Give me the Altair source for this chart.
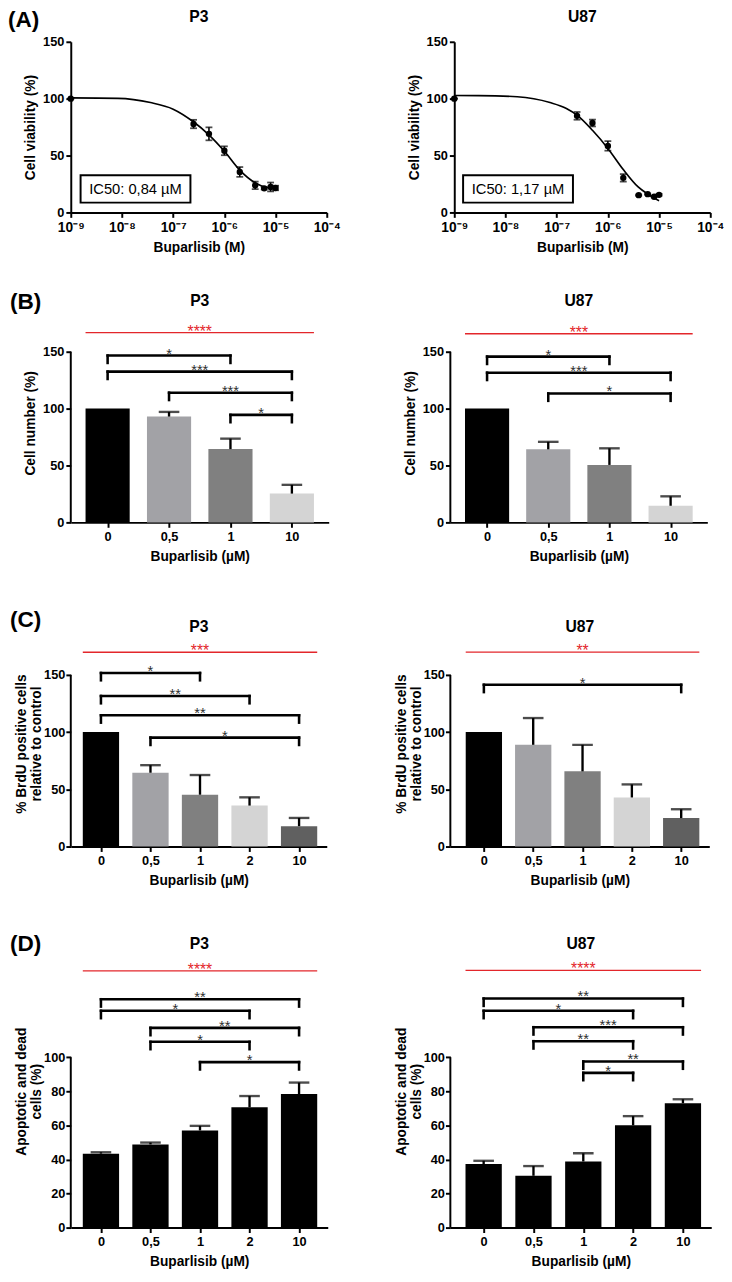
import altair as alt
import pandas as pd

FONT = "Liberation Sans"
RED = "#e3262b"
STAR = "#2e2e2e"

# ---------------- (A) dose-response data ----------------
a_conc = [1e-9, 2.5e-7, 5e-7, 1e-6, 2e-6, 4e-6, 6e-6, 8e-6, 1e-5]
a_p3_mean = [100.0, 77.7, 69.1, 54.2, 35.6, 23.8, 21.2, 22.4, 21.5]
a_p3_sem = [0.0, 3.7, 5.7, 3.9, 4.3, 3.3, 1.0, 3.9, 2.0]
a_u87_mean = [100.0, 84.9, 78.6, 58.5, 30.4, 15.2, 16.1, 13.8, 15.5]
a_u87_sem = [0.0, 3.4, 3.0, 4.2, 3.3, 0.5, 0.5, 0.5, 0.8]
a_p3_fit_x = [1e-9, 8.3e-9, 3.6e-8, 1e-7, 2.45e-7, 5.1e-7, 1.02e-6, 2.04e-6, 3.98e-6, 6.2e-6, 1.12e-5]
a_p3_fit_y = [100.7, 100.3, 96.6, 90.8, 79.9, 67.8, 53.4, 36.8, 26.1, 22.4, 21.3]
a_u87_fit_x = [1e-9, 3e-9, 1.7e-8, 7.4e-8, 1.55e-7, 2.57e-7, 5e-7, 1e-6, 2e-6, 3.9e-6, 6e-6, 1e-5]
a_u87_fit_y = [102.8, 102.7, 101.7, 96.6, 91.4, 85.1, 72.2, 56.3, 37.7, 22.4, 16.1, 10.3]
a_ticks = [1e-9, 1e-8, 1e-7, 1e-6, 1e-5, 1e-4]
a_tick_labels = ["10⁻⁹", "10⁻⁸", "10⁻⁷", "10⁻⁶", "10⁻⁵", "10⁻⁴"]
a_ic50_p3 = "IC50: 0,84 µM"
a_ic50_u87 = "IC50: 1,17 µM"

# ---------------- (B) cell number ----------------
b_cats = ["0", "0,5", "1", "10"]
b_colors = ["#000000", "#a2a2a6", "#808080", "#d4d4d4"]
b_p3_mean = [100.0, 93.0, 64.4, 25.3]
b_p3_sem = [0.0, 4.1, 9.2, 7.7]
b_u87_mean = [100.0, 64.2, 50.5, 14.6]
b_u87_sem = [0.0, 6.6, 14.6, 8.3]
b_p3_brackets = [(0, 2, "*", 146.6), (0, 3, "***", 132.5), (1, 3, "***", 114.0), (2, 3, "*", 94.5)]
b_u87_brackets = [(0, 2, "*", 145.7), (0, 3, "***", 131.6), (1, 3, "*", 113.3)]
b_p3_overall = ("****", 166.7)
b_u87_overall = ("***", 165.8)

# ---------------- (C) BrdU ----------------
c_cats = ["0", "0,5", "1", "2", "10"]
c_colors = ["#000000", "#a2a2a6", "#808080", "#d4d4d4", "#606060"]
c_p3_mean = [100.0, 64.5, 45.3, 35.8, 17.8]
c_p3_sem = [0.0, 6.6, 17.2, 7.2, 7.2]
c_u87_mean = [100.0, 88.9, 65.7, 42.9, 24.9]
c_u87_sem = [0.0, 23.4, 23.2, 11.4, 7.7]
c_p3_brackets = [(0, 2, "*", 151.7), (0, 3, "**", 131.6), (0, 4, "**", 114.7), (1, 4, "*", 95.2)]
c_u87_brackets = [(0, 4, "*", 141.4)]
c_p3_overall = ("***", 169.8)
c_u87_overall = ("**", 170.0)

# ---------------- (D) apoptosis ----------------
d_cats = ["0", "0,5", "1", "2", "10"]
d_colors = ["#000000"] * 5
d_p3_mean = [43.4, 48.8, 57.0, 70.6, 78.4]
d_p3_sem = [0.8, 1.1, 2.7, 6.6, 6.7]
d_u87_mean = [37.3, 30.4, 38.8, 60.0, 73.0]
d_u87_sem = [1.9, 5.7, 4.8, 5.4, 2.3]
d_p3_brackets = [(0, 4, "**", 134.0), (0, 3, "*", 127.2), (1, 4, "**", 117.2),
                 (1, 3, "*", 109.0), (2, 4, "*", 97.1)]
d_u87_brackets = [(0, 4, "**", 134.4), (0, 3, "*", 127.2), (1, 4, "***", 117.6),
                  (1, 3, "**", 109.4), (2, 4, "**", 97.5), (2, 3, "*", 90.8)]
d_p3_overall = ("****", 150.7)
d_u87_overall = ("****", 151.0)


def label_layers(title, width, ty, letter):
    out = [alt.Chart(alt.Data(values=[{"t": title}])).mark_text(
        fontSize=16, fontWeight="bold", align="center", baseline="middle", color="black"
    ).encode(x=alt.value(width / 2), y=alt.value(ty), text="t:N")]
    if letter:
        out.append(alt.Chart(alt.Data(values=[{"t": letter[0]}])).mark_text(
            fontSize=23, fontWeight="bold", align="left", baseline="middle", color="black"
        ).encode(x=alt.value(letter[1]), y=alt.value(letter[2]), text="t:N"))
    return out


def dose_panel(title, mean, sem, fit_x, fit_y, ic50, box_x, letter=None):
    pts = pd.DataFrame({"x": a_conc, "m": mean,
                        "lo": [m - s for m, s in zip(mean, sem)],
                        "hi": [m + s for m, s in zip(mean, sem)]})
    fit = pd.DataFrame({"x": fit_x, "y": fit_y})
    lab_expr = "[" + ",".join("'%s'" % t for t in a_tick_labels) + "][round(log(datum.value)/LN10) + 9]"
    xenc = alt.X("x:Q", scale=alt.Scale(type="log", domain=[a_ticks[0], a_ticks[-1]]),
                 axis=alt.Axis(values=a_ticks, labelExpr=lab_expr, title="Buparlisib (M)",
                               labelFlush=False, labelOverlap=False, labelFontSize=14))
    yenc = alt.Y("y:Q", scale=alt.Scale(domain=[0, 150], nice=False),
                 axis=alt.Axis(values=[0, 50, 100, 150], title="Cell viability (%)"))
    curve = alt.Chart(fit).mark_line(interpolate="monotone", color="black", strokeWidth=1.7).encode(x=xenc, y=yenc)
    err = alt.Chart(pts).mark_rule(color="black", strokeWidth=1.6).encode(x="x:Q", y="lo:Q", y2="hi:Q")
    caps = alt.Chart(pts).transform_fold(["lo", "hi"], as_=["k", "v"]).mark_tick(
        orient="horizontal", size=7, thickness=1.8, color="black").encode(x="x:Q", y="v:Q")
    dots = alt.Chart(pts).mark_circle(size=42, color="black", opacity=1).encode(x="x:Q", y="m:Q")
    box = alt.Chart(alt.Data(values=[{"t": ic50}])).mark_rect(
        fill="white", stroke="black", strokeWidth=2).encode(
        x=alt.value(box_x), x2=alt.value(box_x + 112), y=alt.value(136), y2=alt.value(164))
    boxt = alt.Chart(alt.Data(values=[{"t": ic50}])).mark_text(
        fontSize=15, color="black", align="center", baseline="middle").encode(
        x=alt.value(box_x + 56), y=alt.value(150.5), text="t:N")
    layers = [curve, err, caps, dots, box, boxt] + label_layers(title, 261, -25.5, letter)
    return alt.layer(*layers).properties(width=261, height=174)


def bar_panel(title, cats, colors, mean, sem, brackets, overall, ymax, yticks, ytitle,
              xdom, bar_w, width, height, title_y, letter=None):
    n = len(cats)
    df = pd.DataFrame({"i": list(range(n)), "m": mean, "s": sem, "c": colors})
    df["top"] = df["m"] + df["s"]
    brk = pd.DataFrame(brackets, columns=["a", "b", "lab", "h"])
    brk["mid"] = (brk["a"] + brk["b"]) / 2
    ov = pd.DataFrame({"a": [0], "b": [n - 1], "mid": [(n - 1) / 2],
                       "lab": [overall[0]], "h": [overall[1]]})
    lab_expr = "[" + ",".join("'%s'" % c for c in cats) + "][datum.value]"
    xenc = alt.X("i:Q", scale=alt.Scale(domain=xdom, nice=False, zero=False),
                 axis=alt.Axis(values=list(range(n)), labelExpr=lab_expr, title="Buparlisib (µM)",
                               labelFlush=False, labelOverlap=False))
    two_line = isinstance(ytitle, list)
    yenc = alt.Y("m:Q", scale=alt.Scale(domain=[0, ymax], nice=False),
                 axis=alt.Axis(values=yticks, title=ytitle, domain=False,
                               titlePadding=0 if two_line else 5,
                               labelPadding=1 if two_line else 2))
    bars = alt.Chart(df).mark_bar(size=bar_w, orient="vertical").encode(
        x=xenc, y=yenc, color=alt.Color("c:N", scale=None))
    errl = alt.Chart(df).transform_filter("datum.s > 0").mark_rule(
        color="black", strokeWidth=2.4).encode(x="i:Q", y="m:Q", y2="top:Q")
    capl = alt.Chart(df).transform_filter("datum.s > 0").mark_tick(
        orient="horizontal", size=21, thickness=2.4, color="black").encode(x="i:Q", y="top:Q")
    spine = alt.Chart(alt.Data(values=[{"v": 0}])).mark_rule(color="black", strokeWidth=2).encode(
        x=alt.value(0), y=alt.datum(yticks[0]), y2=alt.datum(yticks[-1]))
    hline = alt.Chart(brk).mark_rule(color="black", strokeWidth=2.6, strokeCap="square").encode(
        x="a:Q", x2="b:Q", y="h:Q")
    ends = alt.Chart(brk).transform_fold(["a", "b"], as_=["end", "xe"]).mark_rule(
        color="black", strokeWidth=2.6, strokeCap="square", y2Offset=7.5).encode(
        x="xe:Q", y="h:Q", y2="h:Q")
    stars = alt.Chart(brk).mark_text(fontSize=15, color=STAR, baseline="alphabetic", dy=3).encode(
        x="mid:Q", y="h:Q", text="lab:N")
    rline = alt.Chart(ov).mark_rule(color=RED, strokeWidth=1.3,
                                    xOffset=-bar_w / 2, x2Offset=bar_w / 2).encode(
        x="a:Q", x2="b:Q", y="h:Q")
    rtext = alt.Chart(ov).mark_text(fontSize=16, color=RED, baseline="alphabetic", dy=4).encode(
        x="mid:Q", y="h:Q", text="lab:N")
    layers = [bars, errl, capl, spine, hline, ends, stars, rline, rtext] + \
        label_layers(title, width, title_y, letter)
    return alt.layer(*layers).properties(width=width, height=height)


rowA = alt.hconcat(
    dose_panel("P3", a_p3_mean, a_p3_sem, a_p3_fit_x, a_p3_fit_y, a_ic50_p3, 10, ("(A)", -64, -22.5)),
    dose_panel("U87", a_u87_mean, a_u87_sem, a_u87_fit_x, a_u87_fit_y, a_ic50_u87, 9),
    spacing=68)

rowB = alt.hconcat(
    bar_panel("P3", b_cats, b_colors, b_p3_mean, b_p3_sem, b_p3_brackets, b_p3_overall,
              175, [0, 50, 100, 150], "Cell number (%)", [-0.52, 3.52], 45, 263, 203, -22.5,
              ("(B)", -62, -21.5)),
    bar_panel("U87", b_cats, b_colors, b_u87_mean, b_u87_sem, b_u87_brackets, b_u87_overall,
              175, [0, 50, 100, 150], "Cell number (%)", [-0.52, 3.52], 45, 262, 203, -22.5),
    spacing=76)

rowC = alt.hconcat(
    bar_panel("P3", c_cats, c_colors, c_p3_mean, c_p3_sem, c_p3_brackets, c_p3_overall,
              180, [0, 50, 100, 150], ["% BrdU positive cells", "relative to control"],
              [-0.51, 4.46], 37, 261, 210, -14, ("(C)", -62, -21)),
    bar_panel("U87", c_cats, c_colors, c_u87_mean, c_u87_sem, c_u87_brackets, c_u87_overall,
              180, [0, 50, 100, 150], ["% BrdU positive cells", "relative to control"],
              [-0.58, 4.47], 37, 264, 210, -14),
    spacing=69)

rowD = alt.hconcat(
    bar_panel("P3", d_cats, d_colors, d_p3_mean, d_p3_sem, d_p3_brackets, d_p3_overall,
              160, [0, 20, 40, 60, 80, 100], ["Apoptotic and dead", "cells (%)"],
              [-0.51, 4.48], 37, 262, 278, -11.5, ("(D)", -62, -11)),
    bar_panel("U87", d_cats, d_colors, d_u87_mean, d_u87_sem, d_u87_brackets, d_u87_overall,
              160, [0, 20, 40, 60, 80, 100], ["Apoptotic and dead", "cells (%)"],
              [-0.57, 4.47], 37, 266, 278, -11.5),
    spacing=68)

chart = alt.vconcat(
    rowA,
    alt.vconcat(rowB, alt.vconcat(rowC, rowD, spacing=46.5), spacing=46.5),
    spacing=37,
).properties(
    padding={"left": 0, "top": -12, "right": 0, "bottom": 0}
).configure(font=FONT).configure_view(stroke=None).configure_axis(
    labelFont=FONT, labelFontSize=13, labelFontWeight="bold", labelColor="black",
    titleFont=FONT, titleFontSize=14, titleFontWeight="bold", titleColor="black",
    domainColor="black", domainWidth=2, tickColor="black", tickWidth=2, tickSize=5,
    grid=False, labelPadding=2, titlePadding=5, titleLineHeight=15
).configure_axisX(titlePadding=7, labelPadding=3)

chart.save("out.html", embed_options={"renderer": "svg", "actions": False})
